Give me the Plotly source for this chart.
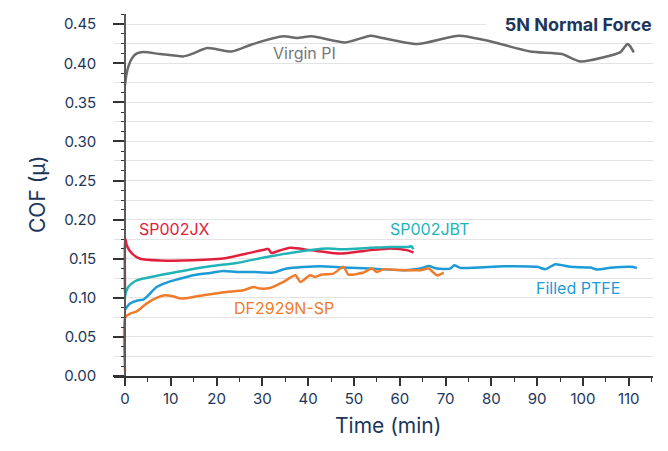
import plotly.graph_objects as go

# ---- data ----
virgin_t = [0, 0.3, 0.8, 1.6, 2.6, 4.0, 7.7, 12.7, 14.2, 17.9, 20, 23.3, 28, 34.6, 37.5, 40.8,
            48.1, 53.6, 55.7, 63.8, 72.9, 79, 88.5, 95.4, 99.5, 108.2, 109.0, 109.7, 110.3, 111.1]
virgin_v = [0.372, 0.385, 0.397, 0.407, 0.4125, 0.4143, 0.4118, 0.4088, 0.411, 0.4195, 0.418, 0.415,
            0.4246, 0.4344, 0.4323, 0.4344, 0.4267, 0.4353, 0.433, 0.4246, 0.4353, 0.4292, 0.4151,
            0.4118, 0.4023, 0.4143, 0.420, 0.4246, 0.422, 0.4139]

jx_t = [0, 0.05, 0.4, 1.5, 3.3, 7.7, 14.9, 22.2, 27.3, 30.8, 31.3, 32.0, 33, 36.1, 40.4, 47,
        53.6, 55.7, 58, 61.5, 63]
jx_v = [0.108, 0.176, 0.167, 0.1567, 0.150, 0.1477, 0.148, 0.151, 0.1575, 0.1622, 0.1625, 0.1572,
        0.159, 0.1639, 0.161, 0.1567, 0.161, 0.1622, 0.163, 0.161, 0.158]

jbt_t = [0, 0.2, 0.7, 2.2, 4, 11.3, 18.6, 24.4, 31, 37.5, 44.1, 47.7, 53.6, 57.9, 61.9, 62.5, 63]
jbt_v = [0.101, 0.107, 0.1138, 0.1212, 0.1246, 0.1331, 0.1404, 0.1446, 0.1523, 0.1587, 0.163,
         0.1622, 0.1639, 0.1651, 0.1651, 0.1660, 0.1622]

ptfe_t = [0, 1.1, 2.9, 4, 5.1, 6.9, 9.1, 11.3, 14.9, 18.6, 21.5, 24.4, 28, 32.4, 35.3, 42.6, 47.7,
          53.6, 60.8, 64.5, 66.3, 68.1, 71, 71.9, 73.2, 82.7, 90, 91.8, 94, 97.3, 101.6, 103.1,
          106, 110.4, 111.8]
ptfe_v = [0.085, 0.0926, 0.0968, 0.0977, 0.1032, 0.1138, 0.1195, 0.1233, 0.1288, 0.1318, 0.1344,
          0.1331, 0.1331, 0.1323, 0.1374, 0.1404, 0.1387, 0.1374, 0.1353, 0.1374, 0.1408, 0.1374,
          0.1374, 0.1417, 0.1383, 0.1404, 0.1396, 0.1366, 0.143, 0.1396, 0.1387, 0.1362, 0.1383,
          0.1396, 0.1383]

df_t = [0, 0.05, 1.1, 2.6, 4.7, 6.9, 8.7, 10.2, 12.4, 15.7, 18.6, 22.2, 25.9, 28, 29.5, 31.7, 34.6,
        37.2, 38.3, 40.4, 41.5, 43, 45.5, 47.7, 48.8, 52.1, 53.9, 55, 56.5, 60, 64.5, 66.3, 68.1, 69.6]
df_v = [0.007, 0.0754, 0.0797, 0.0827, 0.0926, 0.0998, 0.1032, 0.1023, 0.099, 0.1019, 0.1045,
        0.1074, 0.1096, 0.1138, 0.1118, 0.1126, 0.1203, 0.1288, 0.1203, 0.1288, 0.1267, 0.1297,
        0.131, 0.1396, 0.1297, 0.1323, 0.1374, 0.1331, 0.1366, 0.1355, 0.1353, 0.1374, 0.1288, 0.1323]

series = [
    ("Virgin PI", virgin_t, virgin_v, "#6a6a6a"),
    ("SP002JX", jx_t, jx_v, "#e2203d"),
    ("SP002JBT", jbt_t, jbt_v, "#22b3b9"),
    ("Filled PTFE", ptfe_t, ptfe_v, "#1c9bd7"),
    ("DF2929N-SP", df_t, df_v, "#f07b2b"),
]

# label positions (time, COF) and colours
labels = [
    ("Virgin PI", 39.3, 0.413, "#777777"),
    ("SP002JX", 10.8, 0.188, "#e2203d"),
    ("SP002JBT", 66.5, 0.188, "#22b3b9"),
    ("Filled PTFE", 99.0, 0.112, "#1c9bd7"),
    ("DF2929N-SP", 34.7, 0.0874, "#f07b2b"),
]

title_text = "5N Normal Force"
x_title = "Time (min)"
y_title = "COF (μ)"

navy = "#1d3659"
font_family = "Inter"
x_range = [-2.4, 115.3]
y_range = [0, 0.463]

fig = go.Figure()
for name, t, v, c in series:
    fig.add_trace(go.Scatter(x=t, y=v, mode="lines", name=name,
                             line=dict(color=c, width=2.5, shape="spline", smoothing=0.6),
                             showlegend=False, hoverinfo="skip"))

for text, t, v, c in labels:
    fig.add_annotation(x=t, y=v, xref="x", yref="y", text=text, showarrow=False,
                       font=dict(family=font_family, size=16, color=c))

fig.add_annotation(x=1, y=0.45, xref="paper", yref="y", text="<b>" + title_text + "</b>",
                   showarrow=False, xanchor="right", yanchor="middle", align="right",
                   width=165, bgcolor="white", borderpad=0,
                   font=dict(family=font_family, size=18, color=navy))

fig.add_annotation(x=(388 - 114) / 539, y=(375.5 - 425) / 361.5, xref="paper", yref="paper",
                   text=x_title, showarrow=False, xanchor="center", yanchor="middle",
                   font=dict(family=font_family, size=21, color=navy))
fig.add_annotation(x=(37 - 114) / 539, y=0.5, xref="paper", yref="paper",
                   text=y_title, showarrow=False, textangle=-90, xanchor="center", yanchor="middle",
                   font=dict(family=font_family, size=21, color=navy))

axis_pos = (0 - x_range[0]) / (x_range[1] - x_range[0])

fig.update_layout(
    width=668, height=451,
    margin=dict(l=114, r=15, t=14, b=75),
    paper_bgcolor="white", plot_bgcolor="white",
    font=dict(family=font_family, color=navy),
    xaxis=dict(range=x_range, dtick=10, tick0=0, showgrid=False, zeroline=False,
               showline=True, linecolor="#333333", linewidth=1.5,
               ticks="outside", ticklen=8, tickwidth=1.5, tickcolor="#333333",
               tickfont=dict(family=font_family, size=15, color=navy),
               minor=dict(dtick=5, tick0=0, ticks="outside", ticklen=4, tickwidth=1.2,
                          tickcolor="#333333", showgrid=False),
               anchor="y"),
    yaxis=dict(range=y_range, dtick=0.05, tick0=0, tickformat=".2f", showgrid=False,
               zeroline=False, showline=True, linecolor="#5a5a5a", linewidth=1.5,
               anchor="free", position=axis_pos,
               ticks="outside", ticklen=11, tickwidth=1.5, tickcolor="#333333",
               ticklabelstandoff=14,
               tickfont=dict(family=font_family, size=15, color=navy),
               minor=dict(dtick=0.0125, tick0=0, ticks="outside", ticklen=3, tickwidth=1.2,
                          tickcolor="#333333", showgrid=False)),
    yaxis2=dict(range=y_range, dtick=0.025, tick0=0, overlaying="y", showgrid=True,
                gridcolor="#e3e3e3", gridwidth=1, showticklabels=False, ticks="",
                zeroline=False, showline=False, anchor="x"),
)
# invisible trace to activate the gridline axis
fig.add_trace(go.Scatter(x=[None], y=[None], yaxis="y2", showlegend=False, hoverinfo="skip"))
# draw gridline axis under data
fig.data = (fig.data[-1],) + fig.data[:-1]

fig.write_html("out.html")
